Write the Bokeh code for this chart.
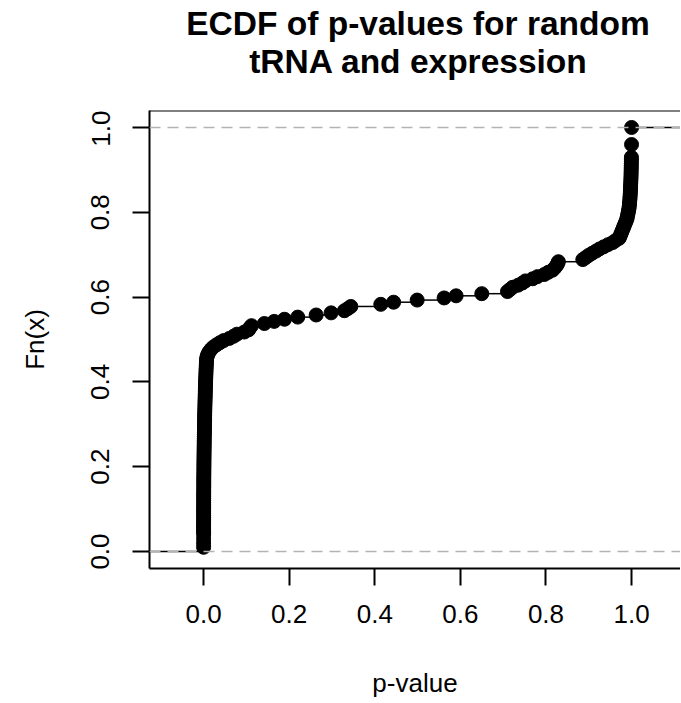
import numpy as np
from bokeh.plotting import figure
from bokeh.models import Range1d, FixedTicker, Span, Div
from bokeh.layouts import column
from bokeh.embed import file_html
from bokeh.resources import INLINE

# ---- data (p-values) ----
pvals_zero = [
    0.00000, 0.00000, 0.00001, 0.00001, 0.00002, 0.00002, 0.00003, 0.00003, 0.00004, 0.00005,
    0.00006, 0.00007, 0.00008, 0.00009, 0.00010, 0.00011, 0.00012, 0.00014, 0.00015, 0.00017,
    0.00018, 0.00020, 0.00022, 0.00024, 0.00026, 0.00028, 0.00030, 0.00033, 0.00035, 0.00038,
    0.00041, 0.00044, 0.00047, 0.00050, 0.00054, 0.00058, 0.00062, 0.00066, 0.00070, 0.00075,
    0.00080, 0.00085, 0.00090, 0.00096, 0.00102, 0.00108, 0.00114, 0.00120, 0.00127, 0.00134,
    0.00141, 0.00148, 0.00156, 0.00164, 0.00172, 0.00180, 0.00189, 0.00198, 0.00207, 0.00216,
    0.00226, 0.00236, 0.00246, 0.00257, 0.00268, 0.00279, 0.00291, 0.00303, 0.00315, 0.00328,
    0.00341, 0.00354, 0.00368, 0.00382, 0.00397, 0.00412, 0.00428, 0.00444, 0.00461, 0.00478,
    0.00496, 0.00514, 0.00533, 0.00552, 0.00572, 0.00592, 0.00613, 0.00634, 0.00656, 0.00678,
]
pvals_bend = [0.0075, 0.0090, 0.0110, 0.0140, 0.0180, 0.0230, 0.0300, 0.0380, 0.0470, 0.0600]
pvals_low = [0.070, 0.078, 0.095, 0.105, 0.108, 0.112, 0.142, 0.165, 0.189, 0.220, 0.263, 0.298]
pvals_mid = [0.329, 0.337, 0.344, 0.414, 0.444, 0.499, 0.562, 0.590, 0.650]
pvals_upper = [0.710, 0.716, 0.722, 0.735, 0.745, 0.752, 0.769, 0.780, 0.796, 0.805,
               0.815, 0.820, 0.824, 0.827, 0.829]
pvals_high = [0.886, 0.893, 0.900, 0.908, 0.917, 0.925, 0.935, 0.945, 0.956, 0.963, 0.971]
pvals_top = [
    0.973, 0.975, 0.977, 0.979, 0.981, 0.983, 0.985, 0.987, 0.989, 0.990,
    0.991, 0.992, 0.993, 0.994, 0.9945, 0.995, 0.9955, 0.996, 0.9963, 0.9966,
    0.9969, 0.9972, 0.9975, 0.9977, 0.9979, 0.9981, 0.9983, 0.9985, 0.9987, 0.9988,
    0.9989, 0.9990, 0.9991, 0.9992, 0.9993, 0.9994, 0.9995, 0.99955,
    0.9999, 0.9999, 0.9999, 0.9999, 0.9999, 0.9999,
    1.0, 1.0, 1.0, 1.0, 1.0, 1.0, 1.0, 1.0,
]

x_ticks = [0.0, 0.2, 0.4, 0.6, 0.8, 1.0]
x_tick_labels = ["0.0", "0.2", "0.4", "0.6", "0.8", "1.0"]
y_ticks = [0.0, 0.2, 0.4, 0.6, 0.8, 1.0]
y_tick_labels = ["0.0", "0.2", "0.4", "0.6", "0.8", "1.0"]

title_lines = ["ECDF of p-values for random", "tRNA and expression"]
x_label = "p-value"
y_label = "Fn(x)"

# ---- ECDF ----
pv = np.sort(np.array(pvals_zero + pvals_bend + pvals_low + pvals_mid +
                      pvals_upper + pvals_high + pvals_top))
n = len(pv)
knots, counts = np.unique(pv, return_counts=True)
Fn = np.cumsum(counts) / n

X0, X1 = -0.1264, 1.1143
Y0, Y1 = -0.04, 1.04

FONT = "Liberation Sans"
W = 680
TITLE_H = 110
H = 702 - TITLE_H
BL, BB = 149, 134

title_div = Div(
    text=('<div style="margin:5px 0 0 150px;width:536px;text-align:center;'
          'font-family:\'Liberation Sans\',Arial,sans-serif;font-weight:bold;'
          'font-size:33.5px;line-height:38px;color:black;white-space:nowrap;">'
          + title_lines[0] + '<br>' + title_lines[1] + '</div>'),
    width=W, height=TITLE_H, margin=0)

p = figure(width=W, height=H, output_backend="svg", toolbar_location=None,
           x_range=Range1d(X0, X1), y_range=Range1d(Y0, Y1),
           min_border_left=BL, min_border_right=0, min_border_top=0,
           min_border_bottom=BB, margin=0)
p.outline_line_color = None
p.background_fill_color = "white"
p.border_fill_color = "white"
p.xgrid.visible = False
p.ygrid.visible = False

# step segments
seg_x0 = np.concatenate([[X0], knots])
seg_x1 = np.concatenate([knots, [X1]])
seg_y = np.concatenate([[0.0], Fn])
p.segment(x0=seg_x0, y0=seg_y, x1=seg_x1, y1=seg_y, line_color="black", line_width=1.5)
p.scatter(x=knots, y=Fn, size=14, fill_color="black", line_color="black")

for yv in (0.0, 1.0):
    p.add_layout(Span(location=yv, dimension="width", line_color="#B3B3B3",
                      line_dash="11 7", line_width=1.5))

# top border of the box
p.add_layout(Span(location=Y1, dimension="width", line_color="black", line_width=2))

for ax, ticks, labels in ((p.xaxis[0], x_ticks, x_tick_labels), (p.yaxis[0], y_ticks, y_tick_labels)):
    ax.ticker = FixedTicker(ticks=ticks)
    ax.major_label_overrides = {t: l for t, l in zip(ticks, labels)}
    ax.minor_tick_line_color = None
    ax.major_tick_out = 17
    ax.major_tick_in = 0
    ax.major_tick_line_width = 2
    ax.axis_line_width = 2
    ax.major_label_text_font = FONT
    ax.major_label_text_font_size = "26px"
    ax.major_label_text_color = "black"
    ax.axis_label_text_font = FONT
    ax.axis_label_text_font_size = "26px"
    ax.axis_label_text_font_style = "normal"
    ax.axis_label_text_color = "black"

p.xaxis.axis_label = x_label
p.yaxis.axis_label = y_label
p.yaxis.major_label_orientation = "vertical"
p.xaxis.major_label_standoff = 19
p.yaxis.major_label_standoff = 23
p.xaxis.axis_label_standoff = 42
p.yaxis.axis_label_standoff = 39
p.title.visible = False

layout = column(title_div, p, spacing=0, margin=0)

open("out.html", "w").write(file_html(layout, INLINE))
